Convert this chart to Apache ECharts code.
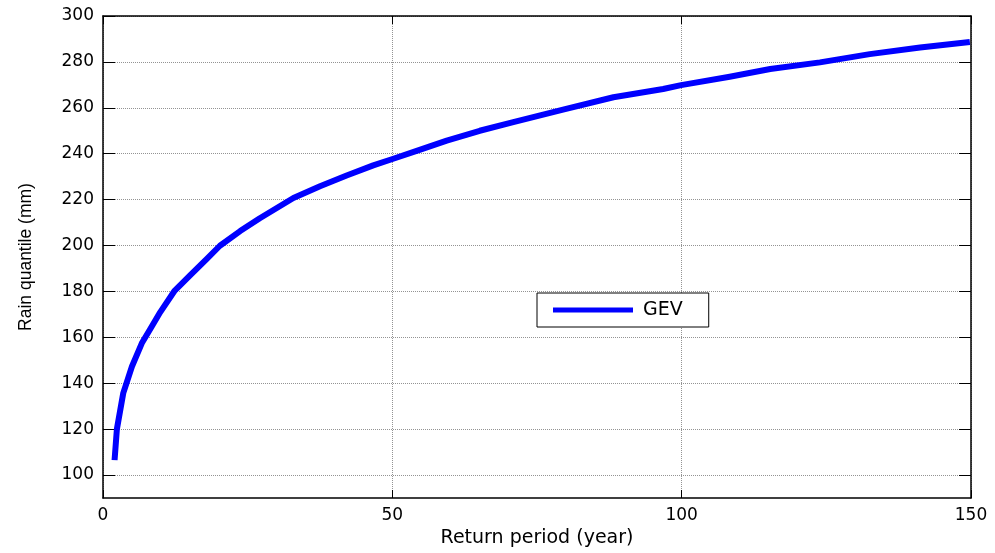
<!DOCTYPE html>
<html>
<head>
<meta charset="utf-8">
<script src="https://cdn.jsdelivr.net/npm/echarts@6/dist/echarts.min.js"></script>
<style>
html,body{margin:0;padding:0;background:#fff;}
#chart{width:995px;height:553px;}
</style>
</head>
<body>
<div id="chart"></div>
<script>
// Return period (year) and GEV rain quantile (mm)
const returnPeriod = [2, 2.4, 3.5, 5, 6.7, 8.4, 9.9, 12.4, 15, 17.9, 20.2, 23.7, 27.1, 32.9, 37.5, 42.1, 46.7, 49.9, 54.2, 59.4, 65.1, 70.9, 79.5, 88.2, 96.8, 99.9, 108.3, 115.3, 123.9, 132.5, 141.2, 149.8];
const rainQuantile = [106.5, 120, 135.7, 147.3, 157.4, 164.6, 171, 180.4, 186.9, 194.1, 199.9, 206.3, 211.9, 220.7, 225.8, 230.5, 234.9, 237.6, 241.2, 245.7, 250, 253.8, 259.2, 264.6, 268.2, 269.9, 273.5, 276.9, 279.8, 283.4, 286.3, 288.7];
const yTicks = [100, 120, 140, 160, 180, 200, 220, 240, 260, 280, 300];
const seriesName = 'GEV';
const xTitle = 'Return period (year)';
const yTitle = 'Rain quantile (mm)';

const chart = echarts.init(document.getElementById('chart'));
const points = returnPeriod.map((t, i) => [t, rainQuantile[i]]);
const grid = 'rgba(120,120,120,0.8)';
const tickFont = {color: '#000', fontFamily: 'DejaVu Sans', fontSize: 17};

chart.setOption({
  animation: false,
  backgroundColor: '#fff',
  grid: {left: 103, right: 24, top: 16, bottom: 51, containLabel: false},
  legend: {
    left: 537, top: 293,
    orient: 'horizontal',
    icon: 'rect',
    itemWidth: 80, itemHeight: 5,
    padding: [5, 26, 5, 16],
    borderColor: '#000', borderWidth: 1,
    backgroundColor: '#fff',
    textStyle: {color: '#000', fontFamily: 'DejaVu Sans', fontSize: 19, lineHeight: 24, padding: [0, 0, 0, 5]},
    data: [seriesName]
  },
  xAxis: [{
    type: 'value', min: 0, max: 150, interval: 50, position: 'bottom',
    name: xTitle, nameLocation: 'middle', nameGap: 31,
    nameTextStyle: {color: '#000', fontFamily: 'DejaVu Sans', fontSize: 19, lineHeight: 19},
    axisLine: {show: true, onZero: false, lineStyle: {color: '#000', width: 1.5}},
    axisTick: {show: true, inside: true, length: 8, lineStyle: {color: '#000'}},
    axisLabel: Object.assign({margin: 9}, tickFont),
    splitLine: {show: true, lineStyle: {color: grid, type: 'dotted', width: 1}}
  }, {
    type: 'value', min: 0, max: 150, interval: 50, position: 'top',
    axisLine: {show: true, onZero: false, lineStyle: {color: '#000', width: 1.5}},
    axisTick: {show: true, inside: true, length: 8, lineStyle: {color: '#000'}},
    axisLabel: {show: false},
    splitLine: {show: false}
  }],
  yAxis: [{
    type: 'value', min: 90, max: 300, position: 'left',
    name: yTitle, nameLocation: 'middle', nameGap: 68,
    nameTextStyle: {color: '#000', fontFamily: 'Liberation Sans', fontSize: 17.5, lineHeight: 18},
    axisLine: {show: true, onZero: false, lineStyle: {color: '#000', width: 1.5}},
    axisTick: {show: true, inside: true, length: 12, customValues: yTicks, lineStyle: {color: '#000'}},
    axisLabel: Object.assign({margin: 9, customValues: yTicks}, tickFont),
    splitLine: {show: true, customValues: yTicks, lineStyle: {color: grid, type: 'dotted', width: 1}}
  }, {
    type: 'value', min: 90, max: 300, position: 'right',
    axisLine: {show: true, onZero: false, lineStyle: {color: '#000', width: 1.5}},
    axisTick: {show: true, inside: true, length: 12, customValues: yTicks, lineStyle: {color: '#000'}},
    axisLabel: {show: false, customValues: yTicks},
    splitLine: {show: false}
  }],
  series: [{
    name: seriesName,
    type: 'line',
    xAxisIndex: 0, yAxisIndex: 0,
    data: points,
    showSymbol: false, symbol: 'none',
    smooth: false,
    color: '#0000ff',
    lineStyle: {color: '#0000ff', width: 6, cap: 'butt', join: 'round'},
    itemStyle: {color: '#0000ff'}
  }]
});
</script>
</body>
</html>
